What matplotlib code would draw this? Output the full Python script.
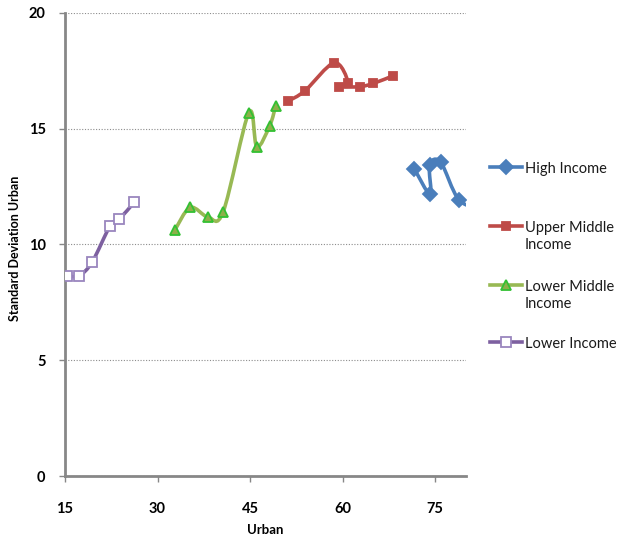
import numpy as np
import matplotlib
matplotlib.use("Agg")
import matplotlib.pyplot as plt
from matplotlib.path import Path
from matplotlib.patches import PathPatch
from matplotlib.lines import Line2D

plt.rcParams["font.family"] = ["Lato", "DejaVu Sans"]

# Data
high_x = [71.6, 74.2, 74.1, 75.9, 78.9, 83.0]
high_y = [13.28, 12.16, 13.44, 13.55, 11.92, 11.5]

upper_mid_x = [51.2, 53.9, 58.65, 60.9, 59.45, 62.8, 65.0, 68.2]
upper_mid_y = [16.2, 16.64, 17.85, 16.99, 16.82, 16.82, 16.96, 17.29]

lower_mid_x = [32.8, 35.3, 38.2, 40.65, 44.8, 46.1, 48.2, 49.15]
lower_mid_y = [10.62, 11.6, 11.18, 11.42, 15.7, 14.22, 15.14, 16.0]

lower_x = [15.3, 17.3, 19.4, 22.3, 23.75, 26.2]
lower_y = [8.64, 8.66, 9.24, 10.8, 11.08, 11.82]

series = [
    ("High Income", high_x, high_y,
     dict(color="#4A7EBB", marker="D", ms=7, mfc="#4A7EBB", mec="#4A7EBB")),
    ("Upper Middle\nIncome", upper_mid_x, upper_mid_y,
     dict(color="#BE4B48", marker="s", ms=6, mfc="#BE4B48", mec="#BE4B48")),
    ("Lower Middle\nIncome", lower_mid_x, lower_mid_y,
     dict(color="#98B954", marker="^", ms=7, mfc="#8DB04A", mec="#33C033")),
    ("Lower Income", lower_x, lower_y,
     dict(color="#7D60A0", marker="s", ms=6.5, mfc="white", mec="#9A86BE")),
]


def smooth_path(ax, xs, ys):
    # Excel-like smoothed line: Catmull-Rom converted to cubic Bezier in display space
    pts = ax.transData.transform(np.column_stack([xs, ys]))
    n = len(pts)
    verts = [pts[0]]
    codes = [Path.MOVETO]
    for i in range(n - 1):
        p0 = pts[i - 1] if i > 0 else pts[i]
        p1 = pts[i]
        p2 = pts[i + 1]
        p3 = pts[i + 2] if i + 2 < n else pts[i + 1]
        c1 = p1 + (p2 - p0) / 6.0
        c2 = p2 - (p3 - p1) / 6.0
        verts += [c1, c2, p2]
        codes += [Path.CURVE4] * 3
    verts = ax.transData.inverted().transform(np.array(verts))
    return Path(verts, codes)


fig = plt.figure(figsize=(6.17, 5.44), dpi=100)
ax = fig.add_axes([65 / 617, 1 - 476 / 544, (466 - 65) / 617, (476 - 13) / 544])

ax.set_xlim(15, 80)
ax.set_ylim(0, 20)
ax.set_xticks([15, 30, 45, 60, 75])
ax.set_yticks([0, 5, 10, 15, 20])

ax.grid(axis="y", color="#8C8C8C", linestyle=(0, (1, 1.5)), linewidth=0.8)
ax.set_axisbelow(True)

for s in ["top", "right"]:
    ax.spines[s].set_visible(False)
for s in ["left", "bottom"]:
    ax.spines[s].set_color("#878787")
    ax.spines[s].set_linewidth(2)

ax.tick_params(axis="both", color="#878787", width=1, length=4, direction="out",
               labelsize=10.5)
ax.tick_params(axis="x", pad=15)
ax.tick_params(axis="y", pad=10)
for lab in ax.get_xticklabels() + ax.get_yticklabels():
    lab.set_fontweight("bold")

fig.canvas.draw()

for name, xs, ys, st in series:
    patch = PathPatch(smooth_path(ax, xs, ys), facecolor="none", edgecolor=st["color"],
                      linewidth=2.6, capstyle="round", joinstyle="round", zorder=3)
    ax.add_patch(patch)
    ax.plot(xs, ys, linestyle="none", marker=st["marker"], ms=st["ms"],
            mfc=st["mfc"], mec=st["mec"], mew=1.3, zorder=4)

ax.set_xlabel("Urban", fontsize=9.5, fontweight="bold")
ax.set_ylabel("Standard Deviation Urban", fontsize=9, fontweight="bold")
ax.xaxis.set_label_coords(0.5, -54 / 463, transform=ax.transAxes)
ax.xaxis.label.set_va("center")
ax.yaxis.set_label_coords(-50 / 401, 228 / 463)
ax.yaxis.label.set_va("center")

# legend drawn at the right, outside the plot area
legend_rows = [167, 226, 285, 342]
for (name, xs, ys, st), row in zip(series, legend_rows):
    yf = 1 - row / 544
    fig.add_artist(Line2D([490 / 617, 522 / 617], [yf, yf], transform=fig.transFigure,
                          color=st["color"], linewidth=2.6))
    fig.add_artist(Line2D([506 / 617], [yf], transform=fig.transFigure, linestyle="none",
                          marker=st["marker"], ms=st["ms"], mfc=st["mfc"],
                          mec=st["mec"], mew=1.3))
    fig.text(525 / 617, yf + 5 / 544, name, fontsize=10.5, va="top", ha="left",
             linespacing=1.3, color="#1a1a1a")

fig.savefig("out.png", dpi=100)
